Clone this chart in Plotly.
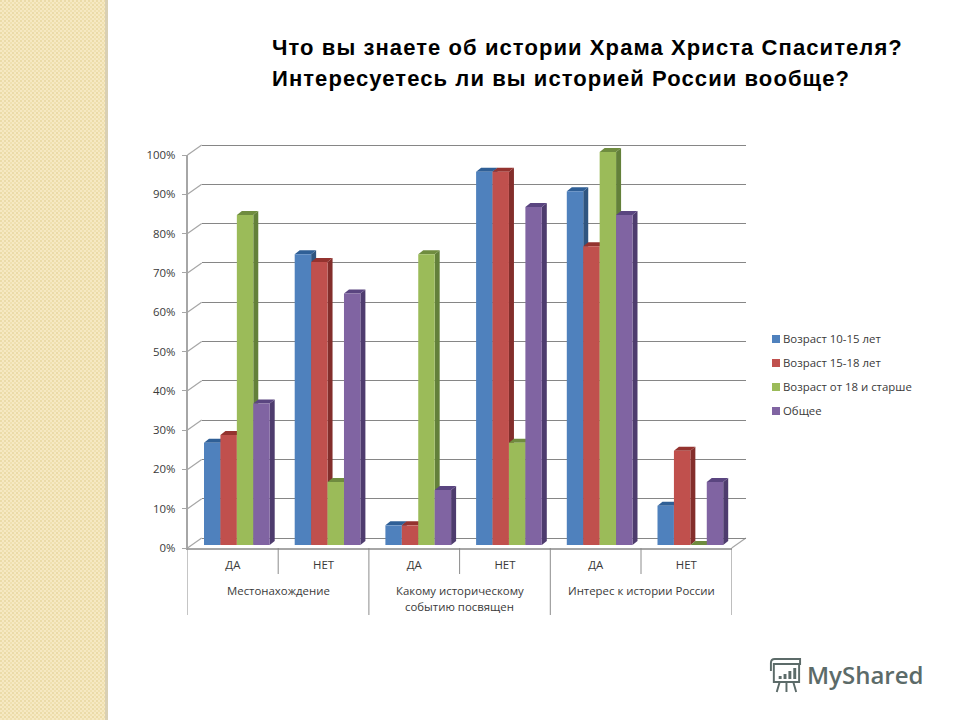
import base64
import plotly.graph_objects as go

# ---------- data ----------
series_names = ["Возраст 10-15 лет", "Возраст 15-18 лет", "Возраст от 18 и старше", "Общее"]
values_young = [26, 74, 5, 95, 90, 10]
values_teen = [28, 72, 5, 95, 76, 24]
values_adult = [84, 16, 74, 26, 100, 0]
values_total = [36, 64, 14, 86, 84, 16]
answer_labels = ["ДА", "НЕТ", "ДА", "НЕТ", "ДА", "НЕТ"]
group_lines = [["Местонахождение"], ["Какому историческому", "событию посвящен"], ["Интерес к истории России"]]
percent_ticks = [0, 10, 20, 30, 40, 50, 60, 70, 80, 90, 100]
title_lines = ["Что вы знаете об истории Храма Христа Спасителя?",
               "Интересуетесь ли вы историей России вообще?"]

front_colors = ["#4F81BD", "#C0504D", "#9BBB59", "#8064A2"]
side_colors = ["#2F5580", "#832E2B", "#63803A", "#4E3C6E"]
top_colors = ["#2F5F96", "#94332F", "#6F8C3F", "#5A4580"]
all_values = [values_young, values_teen, values_adult, values_total]

W, H = 960, 720
FONT = "Open Sans"
FS = 11.4
GRID = "#868686"
TEXT = "#3A3A3A"


def fx(px):
    return px / W


def fy(py):
    return 1 - py / H


# geometry in page pixels
front_l, front_r, front_0, front_100 = 187.5, 731.7, 548.0, 155.0
depth_x, depth_y = 14.2, 10.0
bar_l, bar_r, bar_0, bar_100 = 191.5, 735.7, 545.0, 152.0
bar_top_px = 140.0
unit = (bar_0 - bar_100) / 100
y3_max = (bar_0 - bar_top_px) / unit
y3_min = (bar_0 - 548.0) / unit
cat_w = (front_r - front_l) / 6
bargap = 25 / cat_w
bar_w = (1 - bargap) / 4
side_dx = 5.0 / cat_w
side_dy = 4.0 / unit
x_centers = [i + 0.5 for i in range(6)]
wall_pad = 1.0  # percent points of slack so the 0% and 100% gridlines get drawn

fig = go.Figure()

# back wall axes (gridlines)
fig.add_trace(go.Scatter(x=[None], y=[None], xaxis="x", yaxis="y", showlegend=False, hoverinfo="skip"))
# front axes (labels)
fig.add_trace(go.Scatter(x=[None], y=[None], xaxis="x2", yaxis="y2", showlegend=False, hoverinfo="skip"))
# bars
for name, vals, col in zip(series_names, all_values, front_colors):
    fig.add_trace(go.Bar(x=x_centers, y=vals, name=name, marker=dict(color=col, line=dict(width=0)),
                         xaxis="x3", yaxis="y3", showlegend=False))

shapes = []
annotations = []

# slanted parts of walls and floor
for t in percent_ticks:
    py = front_0 + (front_100 - front_0) * t / 100
    shapes.append(dict(type="line", xref="paper", yref="paper", layer="below",
                       x0=fx(front_l), y0=fy(py), x1=fx(front_l + depth_x), y1=fy(py - depth_y),
                       line=dict(color="#A6A6A6", width=1.2)))
shapes.append(dict(type="line", xref="paper", yref="paper", layer="below",
                   x0=fx(front_r), y0=fy(front_0), x1=fx(front_r + depth_x), y1=fy(front_0 - depth_y),
                   line=dict(color="#A6A6A6", width=1.2)))

# dividers beneath the axis
for i in range(7):
    bottom = 615 if i % 2 == 0 else 574
    shapes.append(dict(type="line", xref="x2", yref="paper", x0=i, x1=i, y0=fy(front_0), y1=fy(bottom),
                       line=dict(color="#8C8C8C", width=1)))

# 3-D faces of the bars, derived from the values
for s, vals in enumerate(all_values):
    for c, v in enumerate(vals):
        xl = c + bargap / 2 + s * bar_w
        xr = xl + bar_w
        side = (f"M{xr},0 L{xr + side_dx},{side_dy} L{xr + side_dx},{v + side_dy} L{xr},{v} Z")
        top = (f"M{xl},{v} L{xl + side_dx},{v + side_dy} L{xr + side_dx},{v + side_dy} L{xr},{v} Z")
        shapes.append(dict(type="path", xref="x3", yref="y3", path=side, layer="below",
                           fillcolor=side_colors[s], line=dict(width=0)))
        shapes.append(dict(type="path", xref="x3", yref="y3", path=top, layer="below",
                           fillcolor=top_colors[s], line=dict(width=0)))

# group labels
for g, lines in enumerate(group_lines):
    for k, line in enumerate(lines):
        annotations.append(dict(text=line, xref="x2", yref="paper", x=2 * g + 1, y=fy(590 + 16 * k),
                                showarrow=False, xanchor="center", yanchor="middle",
                                font=dict(family=FONT, size=FS, color=TEXT)))

# legend
for s, name in enumerate(series_names):
    py = 339 + 24 * s
    shapes.append(dict(type="rect", xref="paper", yref="paper", x0=fx(772), x1=fx(780),
                       y0=fy(py - 4), y1=fy(py + 4), fillcolor=front_colors[s], line=dict(width=0)))
    annotations.append(dict(text=name, xref="paper", yref="paper", x=fx(781), y=fy(py - 1), showarrow=False,
                            xanchor="left", yanchor="middle", font=dict(family=FONT, size=FS, color=TEXT)))

# heading
for k, line in enumerate(title_lines):
    annotations.append(dict(text=line, xref="paper", yref="paper", x=fx(270), y=fy(48 + 30 * k), showarrow=False,
                            xanchor="left", yanchor="middle",
                            font=dict(family="Liberation Sans", size=22, color="#000000", weight="bold")))

# watermark text
annotations.append(dict(text="MyShared", xref="paper", yref="paper", x=fx(805), y=fy(674), showarrow=False,
                        xanchor="left", yanchor="middle",
                        font=dict(family="Open Sans", size=24, color="#5C6B69", weight=600)))

# page decoration: left textured band and watermark icon
band_svg = """<svg xmlns='http://www.w3.org/2000/svg' width='108' height='720'>
<defs><pattern id='p' width='4' height='4' patternUnits='userSpaceOnUse'>
<rect width='4' height='4' fill='#F6E9C3'/><rect width='2' height='2' fill='#EBDBA8'/>
<rect x='2' y='2' width='2' height='2' fill='#EFE0B0'/></pattern></defs>
<rect width='106' height='720' fill='url(#p)'/>
<rect x='105' width='3' height='720' fill='#D9D0B4'/></svg>"""
icon_svg = """<svg xmlns='http://www.w3.org/2000/svg' width='36' height='36' viewBox='0 0 36 36'>
<g fill='none' stroke='#5C6B69' stroke-width='2'>
<path d='M3 13 V5 Q3 1 7 1 H33 V6 H7'/><rect x='6' y='6' width='26' height='18'/>
<path d='M12 24 L9 34 M19 24 V34 M26 24 L29 34'/></g>
<g fill='#5C6B69'><rect x='11' y='18' width='3' height='3'/><rect x='16' y='16' width='3' height='5'/>
<rect x='21' y='13' width='3' height='8'/><rect x='26' y='10' width='3' height='11'/></g></svg>"""


def uri(svg):
    return "data:image/svg+xml;base64," + base64.b64encode(svg.encode()).decode()


images = [
    dict(source=uri(band_svg), xref="paper", yref="paper", x=0, y=1, sizex=fx(108), sizey=1,
         xanchor="left", yanchor="top", sizing="stretch", layer="below"),
    dict(source=uri(icon_svg), xref="paper", yref="paper", x=fx(768), y=fy(658), sizex=fx(35), sizey=36 / H,
         xanchor="left", yanchor="top", sizing="stretch", layer="below"),
]

wall_unit = (front_0 - front_100) / 100
fig.update_layout(
    width=W, height=H, margin=dict(l=0, r=0, t=0, b=0, autoexpand=False), paper_bgcolor="white",
    plot_bgcolor="rgba(0,0,0,0)",
    barmode="group", bargap=bargap, bargroupgap=0, showlegend=False,
    font=dict(family=FONT, size=FS, color=TEXT),
    shapes=shapes, annotations=annotations, images=images,
    # back wall
    xaxis=dict(domain=[fx(front_l + depth_x), fx(front_r + depth_x)], range=[0, 6], visible=False, fixedrange=True),
    yaxis=dict(domain=[fy(front_0 - depth_y + wall_pad * wall_unit), fy(front_100 - depth_y - wall_pad * wall_unit)],
               range=[-wall_pad, 100 + wall_pad], tickvals=percent_ticks,
               showticklabels=False, ticks="", showgrid=True, gridcolor=GRID, gridwidth=1.4, zeroline=False,
               showline=False, anchor="x", fixedrange=True),
    # front axes
    xaxis2=dict(domain=[fx(front_l), fx(front_r)], range=[0, 6], anchor="y2", tickvals=x_centers,
                ticktext=answer_labels, ticks="", showgrid=False, zeroline=False, showline=True,
                linecolor="#A6A6A6", linewidth=1.5, ticklabelstandoff=6,
                tickfont=dict(family=FONT, size=FS, color=TEXT), fixedrange=True),
    yaxis2=dict(domain=[fy(front_0), fy(front_100)], range=[0, 100], anchor="x2", tickvals=percent_ticks,
                ticktext=[f"{t}%" for t in percent_ticks], ticks="outside", ticklen=4, tickcolor="#A6A6A6",
                ticklabelstandoff=4, showgrid=False, zeroline=False,
                showline=True, linecolor="#A6A6A6", linewidth=1.5,
                tickfont=dict(family=FONT, size=FS, color=TEXT), fixedrange=True),
    # bar plane
    xaxis3=dict(domain=[fx(bar_l), fx(bar_r)], range=[0, 6], anchor="y3", visible=False, fixedrange=True),
    yaxis3=dict(domain=[fy(548.0), fy(bar_top_px)], range=[y3_min, y3_max], anchor="x3", visible=False,
                fixedrange=True),
)

post = """
document.body.style.margin='0';
document.querySelectorAll('.annotation-text').forEach(function(t){
  if(t.style.fontWeight==='700'||t.style.fontWeight==='bold'){
    var w=t.getComputedTextLength();
    var x=parseFloat(t.getAttribute('x'));
    t.setAttribute('text-anchor','start');
    t.setAttribute('x',x-w/2);
    t.style.letterSpacing='1.08px';
  }
});
"""
fig.write_html("out.html", post_script=post, config=dict(displayModeBar=False))
